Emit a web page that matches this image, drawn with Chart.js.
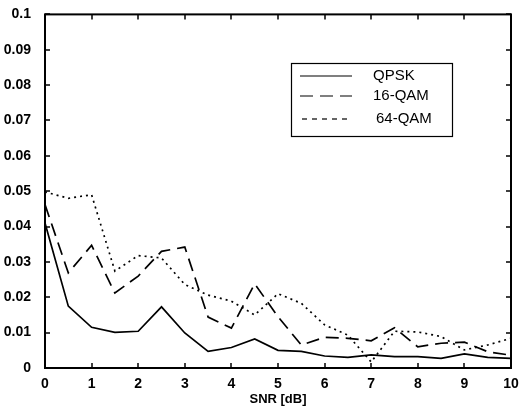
<!DOCTYPE html>
<html lang="en">
<head>
    <meta charset="UTF-8">
    <title>SNR [dB]</title>
    <script src="https://cdn.jsdelivr.net/npm/chart.js"></script>
    <style>
        body { margin: 0; background: #fff; }
        #wrap { width: 524px; height: 412px; }
    </style>
</head>
<body>
<div id="wrap"><canvas id="berChart" width="524" height="412"></canvas></div>
<script>
    // SNR points (dB)
    var snr = [0, 0.5, 1, 1.5, 2, 2.5, 3, 3.5, 4, 4.5, 5, 5.5, 6, 6.5, 7, 7.5, 8, 8.5, 9, 9.5, 10];
    var qpsk = [0.041, 0.0175, 0.0115, 0.0101, 0.0104, 0.0173, 0.0099, 0.0047, 0.0058, 0.0082, 0.005,
        0.0047, 0.0034, 0.003, 0.0037, 0.0032, 0.0032, 0.0027, 0.004, 0.003, 0.0027];
    var qam16 = [0.0462, 0.0269, 0.0347, 0.0212, 0.026, 0.033, 0.0342, 0.0144, 0.0113, 0.0238, 0.0145,
        0.0065, 0.0087, 0.0084, 0.0077, 0.0114, 0.006, 0.007, 0.0073, 0.0046, 0.0036];
    var qam64 = [0.0498, 0.048, 0.049, 0.0274, 0.0318, 0.0311, 0.0236, 0.0206, 0.0189, 0.015, 0.021,
        0.0183, 0.0122, 0.0093, 0.0017, 0.0104, 0.0102, 0.0089, 0.0051, 0.0065, 0.0084];
    var seriesNames = ["QPSK", "16-QAM", "64-QAM"];
    var xTicks = [0, 1, 2, 3, 4, 5, 6, 7, 8, 9, 10];
    var yTicks = [0, 0.01, 0.02, 0.03, 0.04, 0.05, 0.06, 0.07, 0.08, 0.09, 0.1];

    function pts(ys) {
        return snr.map(function (x, i) { return { x: x, y: ys[i] }; });
    }

    // frame with inward ticks on all four sides, like the original plot
    var framePlugin = {
        id: "frame",
        afterDraw: function (chart) {
            var c = chart.ctx, a = chart.chartArea;
            var xs = chart.scales.x, ys = chart.scales.y;
            c.save();
            c.strokeStyle = "#000";
            c.lineWidth = 2;
            c.strokeRect(a.left, a.top, a.right - a.left, a.bottom - a.top);
            c.lineWidth = 1.5;
            c.beginPath();
            xTicks.forEach(function (v) {
                var px = Math.round(xs.getPixelForValue(v));
                c.moveTo(px, a.bottom); c.lineTo(px, a.bottom - 5);
                c.moveTo(px, a.top); c.lineTo(px, a.top + 5);
            });
            yTicks.forEach(function (v) {
                var py = Math.round(ys.getPixelForValue(v));
                c.moveTo(a.left, py); c.lineTo(a.left + 5, py);
                c.moveTo(a.right, py); c.lineTo(a.right - 5, py);
            });
            c.stroke();
            c.restore();
        }
    };

    // boxed legend inside the plot, upper right
    var legendDash = [[], [13, 7], [5, 5]];
    var legendPlugin = {
        id: "boxLegend",
        afterDraw: function (chart) {
            var c = chart.ctx;
            c.save();
            c.fillStyle = "#fff";
            c.fillRect(291, 63, 162, 74);
            c.strokeStyle = "#000";
            c.lineWidth = 1.2;
            c.strokeRect(291.5, 63.5, 161, 73);
            c.font = "15px 'Liberation Sans', Arial, sans-serif";
            c.textBaseline = "middle";
            var rows = [76, 96, 119];
            var textX = [373, 373, 376];
            chart.data.datasets.forEach(function (ds, i) {
                c.beginPath();
                c.setLineDash(legendDash[i]);
                c.lineWidth = 1.2;
                c.strokeStyle = ds.borderColor;
                c.moveTo(i === 2 ? 302 : 300, rows[i]);
                c.lineTo(352, rows[i]);
                c.stroke();
                c.setLineDash([]);
                c.fillStyle = "#000";
                c.fillText(seriesNames[i], textX[i], rows[i]);
            });
            c.restore();
        }
    };

    var tickFont = { family: "'Liberation Sans', Arial, sans-serif", size: 14, weight: "bold" };

    var ctx = document.getElementById("berChart").getContext("2d");
    var myChart = new Chart(ctx, {
        type: "line",
        data: {
            datasets: [
                { label: seriesNames[0], data: pts(qpsk), borderColor: "#000", borderWidth: 1.7 },
                { label: seriesNames[1], data: pts(qam16), borderColor: "#000", borderWidth: 1.7, borderDash: [13, 7] },
                { label: seriesNames[2], data: pts(qam64), borderColor: "#000", borderWidth: 1.7, borderDash: [2, 4] }
            ]
        },
        options: {
            responsive: false,
            animation: false,
            layout: { padding: { top: 12, right: 13, left: 0, bottom: 0 } },
            elements: { point: { radius: 0 }, line: { tension: 0 } },
            plugins: { legend: { display: false }, tooltip: { enabled: false } },
            scales: {
                x: {
                    type: "linear",
                    min: 0, max: 10,
                    afterFit: function (s) { s.height = 44; },
                    afterBuildTicks: function (s) { s.ticks = xTicks.map(function (v) { return { value: v }; }); },
                    grid: { display: false },
                    border: { display: false },
                    ticks: { color: "#000", padding: 0, maxRotation: 0, font: tickFont },
                    title: {
                        display: true,
                        text: "SNR [dB]",
                        color: "#000",
                        padding: { top: 0, bottom: 5 },
                        font: { family: "'Liberation Sans', Arial, sans-serif", size: 13, weight: "bold" }
                    }
                },
                y: {
                    min: 0, max: 0.1,
                    afterFit: function (s) { s.width = 45; },
                    afterBuildTicks: function (s) { s.ticks = yTicks.map(function (v) { return { value: v }; }); },
                    grid: { display: false },
                    border: { display: false },
                    ticks: {
                        color: "#000",
                        padding: 6,
                        callback: function (v) { return String(Number(v.toFixed(2))); },
                        font: tickFont
                    }
                }
            }
        },
        plugins: [framePlugin, legendPlugin]
    });
</script>
</body>
</html>
